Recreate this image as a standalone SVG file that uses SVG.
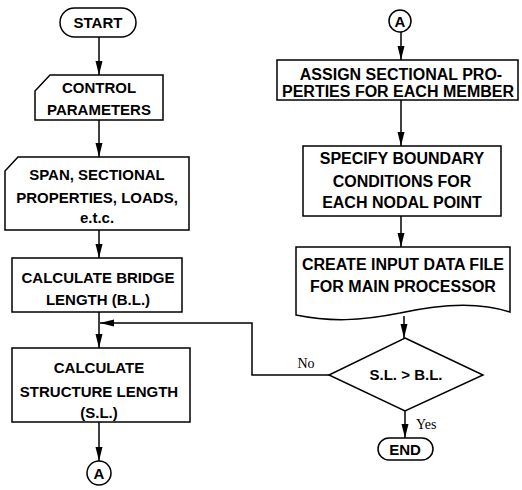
<svg xmlns="http://www.w3.org/2000/svg" width="522" height="490" viewBox="0 0 522 490">
<defs>
<marker id="arr" markerUnits="userSpaceOnUse" markerWidth="15" markerHeight="8" refX="14" refY="3.5" orient="auto">
<path d="M0,0 L14,3.5 L0,7 Z" fill="#000"/>
</marker>
</defs>
<style>
.s{fill:#fff;stroke:#000;stroke-width:1.5}
.t{font-family:"Liberation Sans",Arial,sans-serif;font-size:15px;font-weight:bold;text-anchor:middle;fill:#000}
.b{font-size:16px}
.r{font-family:"Liberation Serif","Times New Roman",serif;font-size:14px;fill:#000}
.c{fill:none;stroke:#000;stroke-width:1.5}
</style>
<rect width="522" height="490" fill="#fff"/>
<g id="connectors">
<line class="c" x1="99" y1="37" x2="99" y2="75" marker-end="url(#arr)"/>
<line class="c" x1="99" y1="120" x2="99" y2="157" marker-end="url(#arr)"/>
<line class="c" x1="99" y1="230" x2="99" y2="258" marker-end="url(#arr)"/>
<line class="c" x1="99" y1="312" x2="99" y2="348" marker-end="url(#arr)"/>
<line class="c" x1="99" y1="422" x2="99" y2="461" marker-end="url(#arr)"/>
<line class="c" x1="401" y1="32" x2="401" y2="60" marker-end="url(#arr)"/>
<line class="c" x1="401" y1="100" x2="401" y2="146" marker-end="url(#arr)"/>
<line class="c" x1="401" y1="216" x2="401" y2="247" marker-end="url(#arr)"/>
<line class="c" x1="404" y1="316" x2="404" y2="338" marker-end="url(#arr)"/>
<line class="c" x1="405" y1="411" x2="405" y2="438" marker-end="url(#arr)"/>
<polyline class="c" points="329,375 252,375 252,323 100,323" marker-end="url(#arr)"/>
<text class="r" x="306" y="368" text-anchor="middle">No</text>
<text class="r" x="416" y="429" font-size="13">Yes</text>
</g>
<g id="start">
<rect class="s" x="60" y="8" width="76" height="29" rx="14.5"/>
<text class="t" x="98" y="28">START</text>
</g>
<g id="control">
<path class="s" d="M50,75 H163 V120 H35 V91 Z"/>
<text class="t" x="99" y="93">CONTROL</text>
<text class="t" x="99" y="115">PARAMETERS</text>
</g>
<g id="span">
<path class="s" d="M18,157 H189 V230 H5 V171 Z"/>
<text class="t" x="97" y="180">SPAN, SECTIONAL</text>
<text class="t" x="97" y="203">PROPERTIES, LOADS,</text>
<text class="t" x="97" y="223" font-size="12">e.t.c.</text>
</g>
<g id="bridge">
<rect class="s" x="12" y="258" width="170" height="54"/>
<text class="t" x="98" y="283">CALCULATE BRIDGE</text>
<text class="t" x="98" y="305">LENGTH (B.L.)</text>
</g>
<g id="structure">
<rect class="s" x="12" y="348" width="178" height="74"/>
<text class="t" x="99" y="373">CALCULATE</text>
<text class="t" x="99" y="397">STRUCTURE LENGTH</text>
<text class="t" x="99" y="418">(S.L.)</text>
</g>
<g id="conn-a-bottom">
<circle class="s" cx="99" cy="473" r="12"/>
<text class="t" x="99" y="479">A</text>
</g>
<g id="conn-a-top">
<circle class="s" cx="400" cy="21" r="11"/>
<text class="t" x="400" y="27">A</text>
</g>
<g id="assign">
<rect class="s" x="277" y="60" width="241" height="40"/>
<text class="t b" x="401" y="80">ASSIGN SECTIONAL PRO-</text>
<text class="t b" x="398" y="97">PERTIES FOR EACH MEMBER</text>
</g>
<g id="specify">
<rect class="s" x="303" y="146" width="198" height="70"/>
<text class="t b" x="402" y="164">SPECIFY BOUNDARY</text>
<text class="t b" x="402" y="187">CONDITIONS FOR</text>
<text class="t b" x="402" y="208">EACH NODAL POINT</text>
</g>
<g id="create">
<path class="s" d="M296,247 H510 V312 C480,302 440,304 400,313 C360,321 330,322 296,315 Z"/>
<text class="t b" x="403" y="270">CREATE INPUT DATA FILE</text>
<text class="t b" x="403" y="292">FOR MAIN PROCESSOR</text>
</g>
<g id="decision">
<path class="s" d="M405,338 L483,375 L405,411 L329,375 Z"/>
<text class="t" x="406" y="380">S.L. &gt; B.L.</text>
</g>
<g id="end">
<rect class="s" x="378" y="438" width="55" height="22" rx="11"/>
<text class="t" x="405" y="455">END</text>
</g>
</svg>
